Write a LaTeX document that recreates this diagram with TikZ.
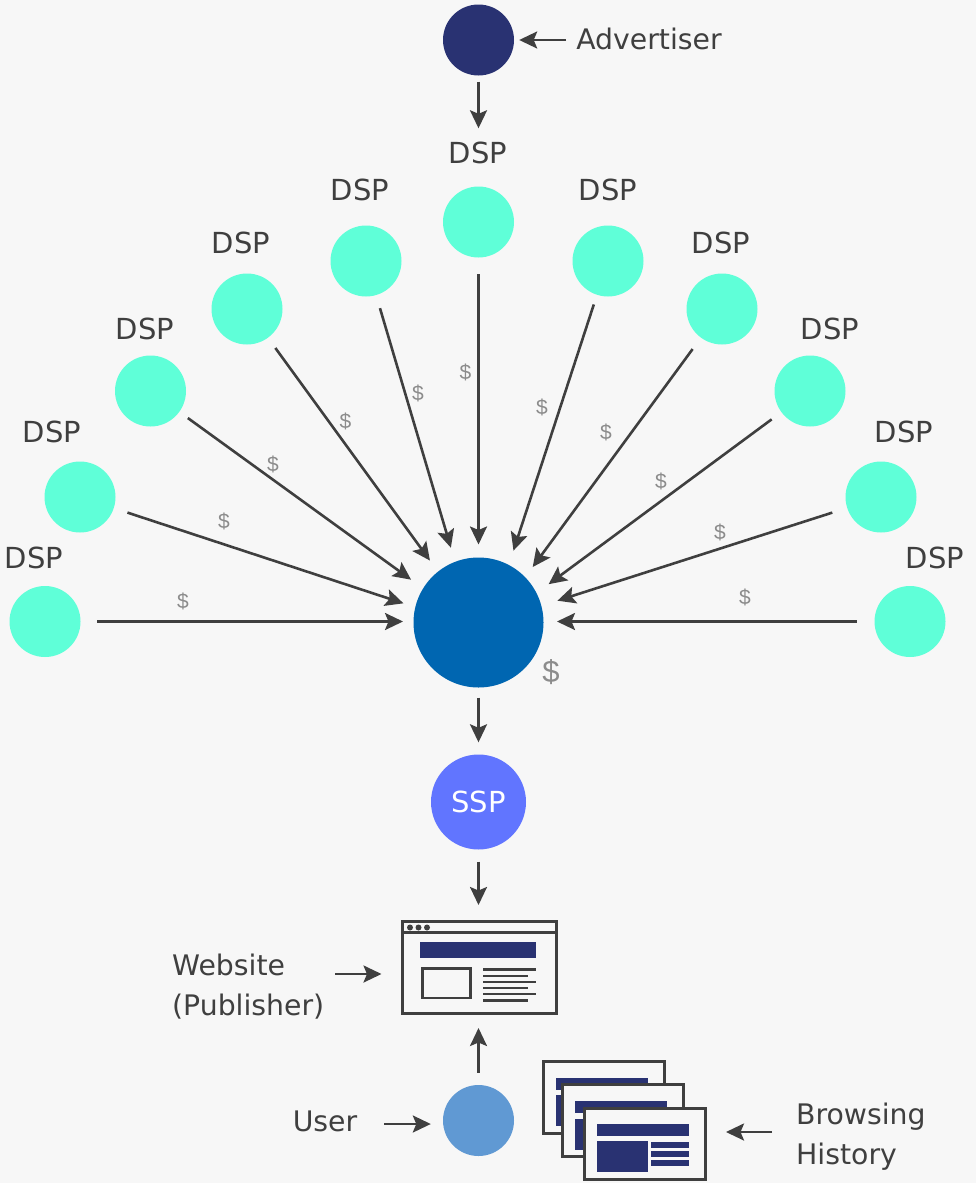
\documentclass[tikz,border=0pt]{standalone}
\usepackage{fontspec}
\setmainfont{DejaVu Sans}
\newfontfamily\dollarfont{Liberation Sans}
\usetikzlibrary{arrows.meta}
\definecolor{bgc}{HTML}{F7F7F7}
\definecolor{ink}{HTML}{3F3F3F}
\definecolor{navy}{HTML}{293272}
\definecolor{mint}{HTML}{5FFFD8}
\definecolor{hubc}{HTML}{0066B1}
\definecolor{sspc}{HTML}{6175FF}
\definecolor{userc}{HTML}{6099D3}
\definecolor{dollar}{HTML}{8C8C8C}
\tikzset{
  x=1pt,y=-1pt,
  dot/.style={circle,draw=none,inner sep=0pt,minimum size=71pt},
  dsp/.style={dot,fill=mint},
  lab/.style={text=ink,font=\fontsize{28.3}{40}\selectfont,inner sep=0pt},
  dsplab/.style={lab,font=\fontsize{29}{40}\selectfont},
  smalld/.style={text=dollar,font=\dollarfont\fontsize{21}{22}\selectfont,inner sep=0pt},
  arr/.style={draw=ink,line width=2.6pt,-{Stealth[length=18pt,width=17pt,inset=3.5pt]}},
  frame/.style={draw=ink,line width=3pt,fill=bgc},
  bar/.style={fill=navy,draw=none},
  thin/.style={draw=ink,line width=2.6pt},
}
\begin{document}
\begin{tikzpicture}
\useasboundingbox (0,0) rectangle (976,1183);
\fill[bgc] (0,0) rectangle (976,1183);
% circles
\node[dot,fill=navy] (adv) at (478.5,40) {};
\node[dsp] (d1) at (45,621.5) {};
\node[dsp] (d2) at (80,497) {};
\node[dsp] (d3) at (150.5,391) {};
\node[dsp] (d4) at (247,309) {};
\node[dsp] (d5) at (366,261) {};
\node[dsp] (d6) at (478.5,222) {};
\node[dsp] (d7) at (608,261) {};
\node[dsp] (d8) at (722,309) {};
\node[dsp] (d9) at (810,391) {};
\node[dsp] (d10) at (881,497) {};
\node[dsp] (d11) at (910,621.5) {};
\node[dot,fill=hubc,minimum size=130pt] (hub) at (478.5,622.5) {};
\node[dot,fill=sspc,minimum size=95pt,text=white,font=\fontsize{29}{32}\selectfont] (ssp) at (478.5,802) {SSP};
\node[dot,fill=userc] (user) at (478.5,1120.5) {};
% labels
\node[lab] (ladv) at (649,39) {Advertiser};
\node[dsplab] (l1) at (34,558) {DSP};
\node[dsplab] (l2) at (52,432) {DSP};
\node[dsplab] (l3) at (145,329) {DSP};
\node[dsplab] (l4) at (241,243) {DSP};
\node[dsplab] (l5) at (360,190) {DSP};
\node[dsplab] (l6) at (478,153) {DSP};
\node[dsplab] (l7) at (608,190) {DSP};
\node[dsplab] (l8) at (721,243) {DSP};
\node[dsplab] (l9) at (830,329) {DSP};
\node[dsplab] (l10) at (904,432) {DSP};
\node[dsplab] (l11) at (935,558) {DSP};
\node[lab,align=left,anchor=west] (lweb) at (172,987) {Website\\(Publisher)};
\node[lab] (luser) at (325,1121) {User};
\node[lab,align=left,anchor=west] (lhist) at (796,1137) {Browsing\\History};
% dollars
\node[smalld] (s1) at (183,601.5) {\$};
\node[smalld] (s2) at (224,521.5) {\$};
\node[smalld] (s3) at (273,464.5) {\$};
\node[smalld] (s4) at (345.5,421.5) {\$};
\node[smalld] (s5) at (418,393.5) {\$};
\node[smalld] (s6) at (465.5,372) {\$};
\node[smalld] (s7) at (542,407.5) {\$};
\node[smalld] (s8) at (606,432.5) {\$};
\node[smalld] (s9) at (661,481) {\$};
\node[smalld] (s10) at (720,532.5) {\$};
\node[smalld] (s11) at (745,597.5) {\$};
\node[smalld,font=\dollarfont\fontsize{31}{32}\selectfont] (bigd) at (551,672) {\$};
% website
\node[frame,draw,minimum width=154pt,minimum height=92pt,inner sep=0pt] (web) at (479,967.5) {};
\draw[thin] (402,932.5) -- (556,932.5);
\foreach \x in {410,418.5,427} \fill[ink] (\x,927.5) circle (3pt);
\fill[bar] (420,942) rectangle (536,958);
\draw[thin] (422.5,968.5) rectangle (470.5,998);
\foreach \y/\e in {969.5/536,976/528,982/536,988/528,994/536,1000.5/528}
  \draw[ink,line width=2.6pt] (483,\y) -- (\e,\y);
% pages
\draw[frame] (543,1061.5) rectangle (664,1133);
\fill[bar] (556,1078) rectangle (648,1090);
\fill[bar] (556,1095) rectangle (600,1126);
\draw[frame] (562,1084.5) rectangle (683,1156);
\fill[bar] (575,1101) rectangle (667,1113);
\fill[bar] (575,1119) rectangle (620,1150);
\draw[frame] (584,1108) rectangle (705,1179.5);
\fill[bar] (597,1124) rectangle (689,1136);
\fill[bar] (597,1141) rectangle (648,1172);
\foreach \y in {1142,1151,1160} \fill[bar] (651,\y) rectangle (689,\y+6);
\coordinate (pages) at (705,1132);
% connectors: node, target offset from hub centre, start gap, end gap
\foreach \i/\dx/\dy/\sa/\sb in {
  d1/0/-1/16.5/75.5,
  d2/0/5.5/14.2/79,
  d3/0/6/10.4/83.2,
  d4/-3.5/0/12.5/76.6,
  d5/-5.5/0/13.5/78,
  d6/0/0/16.5/78,
  d7/11.5/0/10/75.6,
  d8/13.5/0/14/68.8,
  d9/0/13.5/12/87.2,
  d10/0/3.5/15.4/82.9,
  d11/0/-1/17.5/78.5}
  \draw[arr,shorten <=\sa pt,shorten >=\sb pt] (\i) -- ([shift={(\dx pt,-\dy pt)}]hub.center);
\draw[arr,shorten <=6pt,shorten >=58pt] (adv) -- (d6);
\draw[arr,shorten <=10pt,shorten >=5pt] (ladv.west |- adv) -- (adv);
\draw[arr,shorten <=10pt,shorten >=12pt] (hub) -- (ssp);
\draw[arr,shorten <=12pt,shorten >=15pt] (ssp) -- (ssp |- web.north);
\draw[arr,shorten <=12pt,shorten >=13pt] (user) -- (user |- web.south);
\coordinate (weba) at (web.west |- 0,974);
\draw[arr,shorten >=19pt] (335,974) -- (weba);
\coordinate (usera) at (user.west |- 0,1124);
\draw[arr,shorten >=12pt] (384,1124) -- (usera);
\coordinate (pagesa) at (pages);
\draw[arr,shorten >=21pt] (772,1132) -- (pagesa);
\end{tikzpicture}
\end{document}
